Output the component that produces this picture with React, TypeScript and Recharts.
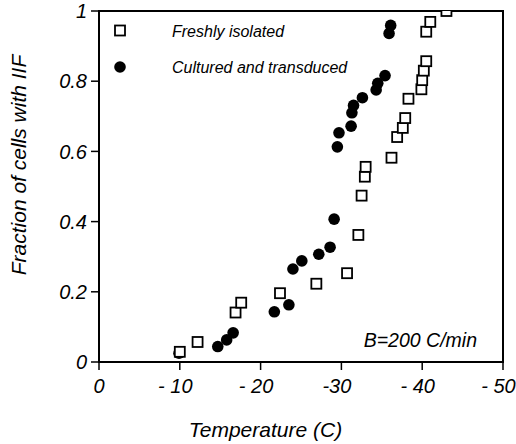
import React from 'react';
import { ScatterChart, Scatter, XAxis, YAxis, ReferenceArea, Customized } from 'recharts';

const freshTemp = [-10.0, -12.2, -16.9, -17.6, -22.4, -26.9, -30.7, -32.1, -32.5, -32.9, -33.0, -36.2, -36.9, -37.6, -37.9, -38.3, -39.9, -40.0, -40.2, -40.5, -40.5, -41.0, -43.0];
const freshFrac = [0.029, 0.057, 0.141, 0.169, 0.196, 0.223, 0.253, 0.362, 0.474, 0.528, 0.556, 0.582, 0.641, 0.667, 0.695, 0.75, 0.777, 0.803, 0.83, 0.857, 0.941, 0.969, 1.0];

const culturedTemp = [-9.9, -14.7, -15.8, -16.6, -21.7, -23.5, -24.0, -25.1, -27.2, -28.6, -29.1, -29.5, -29.7, -31.2, -31.3, -31.5, -32.6, -34.3, -34.5, -35.4, -35.9, -36.1];
const culturedFrac = [0.025, 0.044, 0.063, 0.083, 0.143, 0.163, 0.265, 0.288, 0.307, 0.327, 0.407, 0.613, 0.653, 0.672, 0.71, 0.731, 0.753, 0.775, 0.794, 0.816, 0.936, 0.959];

const xTicks = [0, -10, -20, -30, -40, -50];
const xTickLabels = ['0', '- 10', '- 20', '-30', '- 40', '- 50'];
const yTicks = [0, 0.2, 0.4, 0.6, 0.8, 1];
const yTickLabels = ['0', '0.2', '0.4', '0.6', '0.8', '1'];

const seriesNames = ['Freshly isolated', 'Cultured and transduced'];
const xTitle = 'Temperature (C)';
const yTitle = 'Fraction of cells with IIF';
const noteText = 'B=200 C/min';

const freshData = freshTemp.map((t, i) => ({ t, f: freshFrac[i] }));
const culturedData = culturedTemp.map((t, i) => ({ t, f: culturedFrac[i] }));

const FONT = '"Liberation Sans", Arial, sans-serif';

const SquareShape = (props: any) => {
  const { cx, cy } = props;
  return <rect x={cx - 5} y={cy - 5} width={10} height={10} fill="#fff" stroke="#000" strokeWidth={1.8} />;
};
const CircleShape = (props: any) => {
  const { cx, cy } = props;
  return <circle cx={cx} cy={cy} r={5.8} fill="#000" />;
};

const XTick = (props: any) => {
  const { x, y, payload } = props;
  const idx = xTicks.indexOf(payload.value);
  const dx = payload.value === 0 ? 0 : -4.5;
  return (
    <text x={x + dx} y={y} dy="0.71em" textAnchor="middle" fill="#000" fontSize={20} fontStyle="italic" fontFamily={FONT}>
      {xTickLabels[idx]}
    </text>
  );
};

const YTick = (props: any) => {
  const { x, y, payload } = props;
  const idx = yTicks.indexOf(payload.value);
  return (
    <text x={x} y={y} dy="0.355em" textAnchor="end" fill="#000" fontSize={20} fontStyle="italic" fontFamily={FONT}>
      {yTickLabels[idx]}
    </text>
  );
};

const Overlay = () => (
  <g style={{ fontFamily: FONT, fontStyle: 'italic' }}>
    <SquareShape cx={120} cy={30.5} />
    <text x={172} y={36.5} fontSize={16} fill="#000">{seriesNames[0]}</text>
    <CircleShape cx={120} cy={67} />
    <text x={172} y={73} fontSize={16} fill="#000">{seriesNames[1]}</text>
    <text x={477} y={346.5} fontSize={19.5} fill="#000" textAnchor="end">{noteText}</text>
    <text x={18} y={165} fontSize={21} fill="#000" textAnchor="middle" dominantBaseline="central" transform="rotate(-90, 18, 165)">{yTitle}</text>
    <text x={265.5} y={436.5} fontSize={21} fill="#000" textAnchor="middle">{xTitle}</text>
  </g>
);

export default function App() {
  return (
    <div style={{ position: 'absolute', left: 0, top: 0, width: 516, height: 444, background: '#fff' }}>
      <ScatterChart width={516} height={444} margin={{ top: 11, right: 13, left: 0, bottom: 0 }}>
        <XAxis
          type="number"
          dataKey="t"
          domain={[-50, 0]}
          reversed
          ticks={xTicks}
          height={82}
          allowDataOverflow
          axisLine={{ stroke: '#000', strokeWidth: 2 }}
          tickLine={{ stroke: '#000', strokeWidth: 1.5 }}
          tickSize={8}
          tickMargin={9}
          tick={XTick}
        />
        <YAxis
          type="number"
          dataKey="f"
          domain={[0, 1]}
          ticks={yTicks}
          width={99}
          allowDataOverflow
          axisLine={{ stroke: '#000', strokeWidth: 2 }}
          tickLine={{ stroke: '#000', strokeWidth: 1.5 }}
          tickSize={8}
          tickMargin={4}
          tick={YTick}
        />
        <ReferenceArea x1={-50} x2={0} y1={0} y2={1} fill="none" stroke="#000" strokeWidth={2} />
        <Scatter name={seriesNames[1]} data={culturedData} shape={CircleShape} isAnimationActive={false} />
        <Scatter name={seriesNames[0]} data={freshData} shape={SquareShape} isAnimationActive={false} />
        <Customized component={Overlay} />
      </ScatterChart>
    </div>
  );
}
